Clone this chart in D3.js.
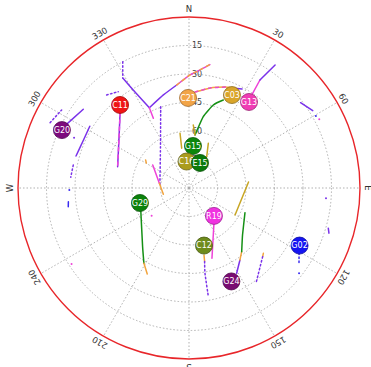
<!DOCTYPE html>
<html>
<head>
<meta charset="utf-8">
<script src="https://cdn.jsdelivr.net/npm/d3@7"></script>
<style>
  html, body { margin: 0; padding: 0; background: #fff; }
  svg { display: block; }
</style>
</head>
<body>
<svg id="sky" width="371" height="367"></svg>
<script>
// Satellite positions: azimuth (deg from north, clockwise) and elevation (deg)
const satIds = ["G20", "C11", "C21", "C03", "G13", "G15", "C16", "E15", "G29", "R19", "C12", "G24", "G02"];
const satAz  = [294.5, 320.3, 359.4, 24.8, 34.9, 5.4, 354.6, 23.7, 253.0, 138.2, 165.4, 155.6, 117.5];
const satEl  = [16.5, 33.2, 42.6, 36.1, 34.8, 67.8, 76.0, 75.6, 63.0, 70.3, 58.7, 36.0, 24.4];

// Elevation rings and azimuth labels
const elevTicks = [15, 30, 45, 60, 75];
const azTicks = [0, 30, 60, 90, 120, 150, 180, 210, 240, 270, 300, 330];
const azLabels = ["N", "30", "60", "E", "120", "150", "S", "210", "240", "W", "300", "330"];

// Track pieces, each tagged with its signal band; points are [azimuth, elevation]
const trackBand = [
  "p", "p", "p", "p", "p",
  "pm",
  "p", "p", "p", "mo", "m", "p", "m", "o", "o",
  "om", "p",
  "m", "p",
  "g", "y", "y", "y",
  "p", "p",
  "b",
  "y",
  "p", "o", "g",
  "o", "p",
  "m",
  "o", "p",
  "g", "o",
  "b"
];
const trackDotted = [
  true, false, false, true, true,
  false,
  true, false, false, false, false, true, false, false, false,
  false, false,
  false, false,
  false, false, false, false,
  false, false,
  true,
  false,
  false, false, false,
  false, true,
  false,
  false, true,
  false, false,
  false
];
const trackPts = [
  [[295.2, 9.2], [301.5, 11.4]],
  [[297.6, 17.4], [306.7, 20.6]],
  [[301.9, 28.5], [293.9, 29.0], [285.8, 28.2]],
  [[281.2, 27.9], [275.2, 27.5]],
  [[318.5, 24.6], [323.7, 27.1]],
  [[317.4, 36.4], [304.4, 45.3], [286.6, 50.8]],
  [[332.3, 15.0], [328.9, 22.5]],
  [[329.0, 22.8], [330.8, 32.7], [333.7, 42.9]],
  [[333.7, 42.9], [344.6, 39.2], [353.2, 35.4]],
  [[353.2, 35.4], [0.5, 30.5], [5.3, 27.6], [9.6, 24.1]],
  [[333.7, 42.9], [332.9, 48.8]],
  [[340.8, 44.7], [325.2, 63.7], [275.9, 74.6]],
  [[302.4, 67.4], [279.0, 74.2]],
  [[279.0, 74.2], [256.2, 76.1]],
  [[302.9, 62.8], [300.3, 64.0]],
  [[3.6, 39.4], [11.9, 36.2], [19.6, 33.6], [23.3, 32.7]],
  [[23.3, 32.7], [28.2, 30.9]],
  [[34.0, 31.0], [33.3, 22.0]],
  [[33.3, 22.0], [35.0, 11.0]],
  [[6.5, 61.9], [11.3, 51.7], [16.3, 44.5], [21.3, 40.3]],
  [[3.9, 56.8], [6.5, 61.9]],
  [[350.7, 60.8], [349.6, 68.7]],
  [[23.4, 64.4], [29.5, 71.1]],
  [[52.6, 16.1], [58.0, 13.2]],
  [[106.1, 13.7], [107.9, 12.6]],
  [[120.6, 22.7], [124.2, 20.0]],
  [[84.2, 58.5], [120.4, 61.9]],
  [[150.8, 38.6], [144.7, 43.6]],
  [[144.7, 43.6], [140.4, 46.5]],
  [[140.4, 46.5], [131.3, 52.5], [113.8, 57.8]],
  [[131.3, 37.9], [133.0, 37.0]],
  [[133.0, 37.0], [144.9, 28.7]],
  [[143.4, 67.9], [161.9, 51.1]],
  [[167.4, 53.8], [168.0, 50.5]],
  [[168.0, 50.5], [169.4, 44.3], [169.9, 31.9]],
  [[245.5, 62.1], [218.3, 50.6], [210.9, 43.8]],
  [[210.9, 43.8], [205.9, 39.7]],
  [[263.5, 26.1], [261.2, 25.7]]
];

// Isolated observations
const dotAz   = [60.4, 62.2, 94.3, 127.8, 269.0, 237.1, 233.4, 293.6];
const dotEl   = [13.2, 12.5, 17.7, 16.7, 27.0, 16.4, 65.5, 24.0];
const dotBand = ["b", "m", "p", "b", "b", "m", "m", "p"];

// ---- styling ----
const satFill = {
  G20: "#7d0a7d", C11: "#f01414", C21: "#f2a447", C03: "#d9a52a", G13: "#f03cb4",
  G15: "#0b860b", C16: "#ab9c1c", E15: "#0a7a0a", G29: "#0b820b", R19: "#f032e0",
  C12: "#6f8c1c", G24: "#7a0c72", G02: "#1414f2"
};
const bandColor = {
  p: "#7a32ea", b: "#3a2cf0", m: "#ee42d8", o: "#f2a43e", y: "#c8a624", g: "#159015"
};
const bandAlt = { pm: ["#8a2be2", "#ea48e0"], mo: ["#e24ad0", "#f2a43e"], om: ["#f2a43e", "#e84cc8"] };

const cx = 189, cy = 188, R = 171;
const svg = d3.select("#sky");
const rScale = d3.scaleLinear().domain([90, 0]).range([0, R]);
const rad = d => d * Math.PI / 180;
const px = (az, el) => cx + rScale(el) * Math.sin(rad(az));
const py = (az, el) => cy - rScale(el) * Math.cos(rad(az));

// grid
const grid = svg.append("g").attr("fill", "none").attr("stroke", "#a8a8a8")
  .attr("stroke-width", 0.9).attr("stroke-dasharray", "1.5,2");
grid.selectAll("circle.ring").data(elevTicks).join("circle")
  .attr("cx", cx).attr("cy", cy).attr("r", d => rScale(d));
grid.selectAll("line.spoke").data(azTicks).join("line")
  .attr("x1", cx).attr("y1", cy)
  .attr("x2", d => px(d, 0)).attr("y2", d => py(d, 0));

svg.append("circle").attr("cx", cx).attr("cy", cy).attr("r", rScale(0))
  .attr("fill", "none").attr("stroke", "#e8262a").attr("stroke-width", 1.4);

// elevation labels
svg.append("g").selectAll("text").data(elevTicks).join("text")
  .attr("x", cx + 3).attr("y", d => cy - rScale(d))
  .attr("dy", "0.35em")
  .attr("font-family", "DejaVu Sans, sans-serif").attr("font-size", 8)
  .attr("fill", "#444").text(d => d);

// azimuth labels
svg.append("g").selectAll("text").data(azTicks).join("text")
  .attr("transform", d => {
    const r = R + 7.5;
    const x = cx + r * Math.sin(rad(d)), y = cy - r * Math.cos(rad(d));
    return `translate(${x},${y}) rotate(${d})`;
  })
  .attr("text-anchor", "middle").attr("dy", "0.35em")
  .attr("font-family", "DejaVu Sans, sans-serif").attr("font-size", 8.5)
  .attr("fill", "#333").text((d, i) => azLabels[i]);

// tracks
const line = d3.line().x(d => px(d[0], d[1])).y(d => py(d[0], d[1])).curve(d3.curveCardinal.tension(0.6));
const tg = svg.append("g").attr("fill", "none").attr("stroke-linecap", "round");
trackPts.forEach((pts, i) => {
  const band = trackBand[i];
  const dotted = trackDotted[i];
  if (bandAlt[band]) {
    const [c1, c2] = bandAlt[band];
    tg.append("path").attr("d", line(pts)).attr("stroke", c1).attr("stroke-width", 1.5);
    tg.append("path").attr("d", line(pts)).attr("stroke", c2).attr("stroke-width", 1.5)
      .attr("stroke-dasharray", "3,4");
  } else {
    tg.append("path").attr("d", line(pts)).attr("stroke", bandColor[band])
      .attr("stroke-width", 1.5)
      .attr("stroke-dasharray", dotted ? "1.5,2.5" : null);
  }
});
svg.append("g").selectAll("circle").data(dotAz).join("circle")
  .attr("cx", (d, i) => px(d, dotEl[i])).attr("cy", (d, i) => py(d, dotEl[i]))
  .attr("r", 1).attr("fill", (d, i) => bandColor[dotBand[i]]);

// satellites
const sg = svg.append("g").selectAll("g").data(satIds).join("g")
  .attr("transform", (d, i) => `translate(${px(satAz[i], satEl[i])},${py(satAz[i], satEl[i])})`);
sg.append("circle").attr("r", 8.5)
  .attr("fill", d => satFill[d])
  .attr("stroke", d => d3.color(satFill[d]).darker(1.2))
  .attr("stroke-width", 0.8);
sg.append("text").attr("text-anchor", "middle").attr("dy", "0.36em")
  .attr("font-family", "DejaVu Sans, sans-serif").attr("font-size", 8)
  .attr("fill", "#fff").text(d => d);
</script>
</body>
</html>
